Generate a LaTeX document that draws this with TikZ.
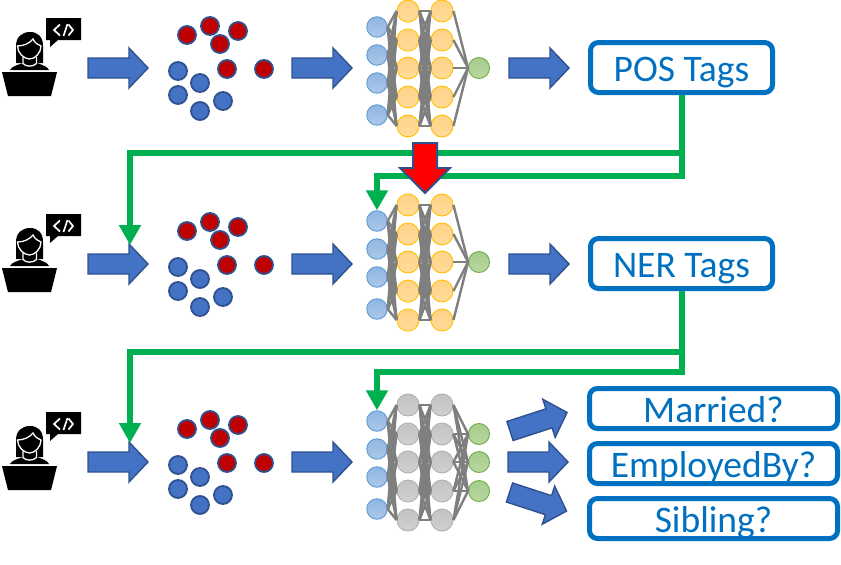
\documentclass[tikz,border=0pt]{standalone}
\usepackage{fontspec}
\setmainfont{Carlito}
\usetikzlibrary{arrows.meta}
\definecolor{barrow}{HTML}{4472C4}
\definecolor{bedge}{HTML}{2F528F}
\definecolor{boxblue}{HTML}{0070C0}
\definecolor{lnk}{HTML}{00B050}
\definecolor{wire}{HTML}{7F7F7F}
\tikzset{
  flow/.style={draw=bedge,fill=barrow,line width=1.4pt,miter limit=10},
  dotb/.style={circle,draw=bedge,fill=barrow,line width=1.8pt,inner sep=0pt,minimum size=18pt},
  dotr/.style={circle,draw=bedge,fill=red!75!black,line width=1.8pt,inner sep=0pt,minimum size=18pt},
  inn/.style={circle,inner sep=0pt,minimum size=20.5pt,line width=.9pt,draw={rgb,255:red,91;green,155;blue,213},top color={rgb,255:red,143;green,182;blue,226},bottom color={rgb,255:red,172;green,200;blue,232}},
  hid/.style={circle,draw={rgb,255:red,255;green,192;blue,0},inner sep=0pt,minimum size=22pt,line width=.9pt,top color={rgb,255:red,255;green,211;blue,135},bottom color={rgb,255:red,255;green,219;blue,155}},
  hidg/.style={circle,draw={rgb,255:red,175;green,175;blue,175},inner sep=0pt,minimum size=22pt,line width=.9pt,top color={rgb,255:red,195;green,195;blue,195},bottom color={rgb,255:red,208;green,208;blue,208}},
  outn/.style={circle,draw={rgb,255:red,112;green,173;blue,71},inner sep=0pt,minimum size=21pt,line width=.9pt,top color={rgb,255:red,165;green,205;blue,140},bottom color={rgb,255:red,185;green,215;blue,160}},
  wired/.style={draw=wire,line width=2.4pt},
  tagbox/.style={draw=boxblue,line width=5pt,rounded corners=8pt,text=boxblue,font=\fontsize{37.5}{37.5}\selectfont,inner sep=0pt,text height=28pt,text depth=0pt,align=center},
  link/.style={draw=lnk,line width=6pt,-{Triangle[width=21pt,length=20pt]}}
}
\newcommand{\blockarrow}[3]{%
  \begin{scope}[shift={(#1,#2)},rotate=#3]
    \draw[flow] (0,-10) -- (41,-10) -- (41,-20) -- (60,0) -- (41,20) -- (41,10) -- (0,10) -- cycle;
  \end{scope}}
\newcommand{\coder}[1]{%
  \begin{scope}[yshift=-#1pt]
    \fill (2,72) -- (57,72) -- (51,96) -- (8,96) -- cycle;
    \fill (46,18) -- (81,18) -- (81,40) -- (58,40) -- (50,47) -- (50,40) -- (46,40) -- cycle;
    \draw[white,line width=1.7pt] (60,24.5) -- (54,30) -- (60,35.5);
    \draw[white,line width=1.7pt] (67.5,24) -- (63.5,36);
    \draw[white,line width=1.7pt] (68.5,24.5) -- (73,30) -- (68.5,35.5);
    \fill (16,63) -- (16,46) .. controls (16,37) and (22,32) .. (30,32) .. controls (38,32) and (43,37) .. (43,46) -- (43,63) -- cycle;
    \fill (10,70) .. controls (12,66) and (18,65) .. (23,63) -- (37,63) .. controls (42,65) and (47,66) .. (49,70) -- cycle;
    \draw[white,line width=1.3pt] (17.5,46) .. controls (24,46) and (30,43) .. (33,39) .. controls (35,43) and (38,45) .. (41,46) .. controls (41,53) and (35,59) .. (29.5,59) .. controls (24,59) and (17.5,53) .. (17.5,46) -- cycle;
    \draw[white,line width=1.3pt] (23,57) -- (23,63.5) .. controls (26,67) and (33,67) .. (36.5,63.5) -- (36.5,57);
  \end{scope}}
\newcommand{\dotcloud}[2]{%
  \foreach \k/\a/\b in {1/187/35,2/210/26,3/238/31,4/220/44,5/227/69,6/264/69}
    \node[dotr] (#1r\k) at (\a,\b+#2) {};
  \foreach \k/\a/\b in {1/178/71,2/200/83,3/178/95,4/223/101,5/200/111}
    \node[dotb] (#1b\k) at (\a,\b+#2) {};}
\newcommand{\network}[4]{%
  \foreach \k/\b in {1/27,2/55,3/83,4/115}
    \node[inn] (#1i\k) at (377,\b+#2) {};
  \foreach \k/\b in {1/11,2/40,3/68,4/97,5/126}{
    \node[#3] (#1a\k) at (408,\b+#2) {};
    \node[#3] (#1c\k) at (442,\b+#2) {};}
  \foreach \k/\b in {#4}
    \node[outn] (#1o\k) at (479,\b+#2) {};
  \foreach \s in {1,2,3,4}\foreach \t in {1,...,5}
    \draw[wired] (#1i\s.east) -- (#1a\t.west);
  \foreach \s in {1,...,5}\foreach \t in {1,...,5}
    \draw[wired] (#1a\s.east) -- (#1c\t.west);
  \foreach \s in {1,...,5}\foreach \t/\b in {#4}
    \draw[wired] (#1c\s.east) -- (#1o\t.west);}
\begin{document}
\begin{tikzpicture}[x=1pt,y=-1pt]
\useasboundingbox (0,0) rectangle (841,565);
\fill[white] (0,0) rectangle (841,565);
% row 1
\coder{0}
\dotcloud{p}{0}
\network{p}{0}{hid}{1/68}
\blockarrow{88}{68}{0}
\blockarrow{292}{68}{0}
\blockarrow{509}{68}{0}
\node[tagbox,minimum width=182pt,minimum height=50pt] (pos) at (681.5,67.5) {POS Tags};
% row 2
\coder{196}
\dotcloud{n}{196}
\network{n}{194}{hid}{1/68}
\blockarrow{88}{264}{0}
\blockarrow{292}{264}{0}
\blockarrow{509}{264}{0}
\node[tagbox,minimum width=182pt,minimum height=50pt] (ner) at (681.5,263.5) {NER Tags};
% row 3
\coder{394}
\dotcloud{r}{394}
\network{r}{394}{hidg}{1/40,2/68,3/97}
\blockarrow{88}{462}{0}
\blockarrow{292}{462}{0}
\blockarrow{510}{431}{18}
\blockarrow{508}{462}{0}
\blockarrow{509.5}{492.5}{-18}
\node[tagbox,minimum width=248pt,minimum height=40pt] (mar) at (713.5,408.5) {Married?};
\node[tagbox,minimum width=248pt,minimum height=40pt] (emp) at (713.5,463.5) {EmployedBy?};
\node[tagbox,minimum width=248pt,minimum height=40pt] (sib) at (713.5,518.5) {Sibling?};
% green connectors
\coordinate (t1) at (0,153);
\coordinate (t2) at (0,176);
\coordinate (t3) at (0,352);
\coordinate (t4) at (0,372);
\coordinate (g2) at (130,245);
\coordinate (g3) at (130,443);
\draw[link] (pos.south) -- (pos.south |- t1) -- (g2 |- t1) -- (g2);
\draw[link] (pos.south) -- (pos.south |- t2) -- (ni1.north |- t2) -- (ni1.north);
\draw[link] (ner.south) -- (ner.south |- t3) -- (g3 |- t3) -- (g3);
\draw[link] (ner.south) -- (ner.south |- t4) -- (ri1.north |- t4) -- (ri1.north);
% red arrow
\draw[draw=bedge,fill=red,line width=2pt,miter limit=10] (413,143) -- (437,143) -- (437,168) -- (450,168) -- (425,193) -- (400,168) -- (413,168) -- cycle;
\end{tikzpicture}
\end{document}
